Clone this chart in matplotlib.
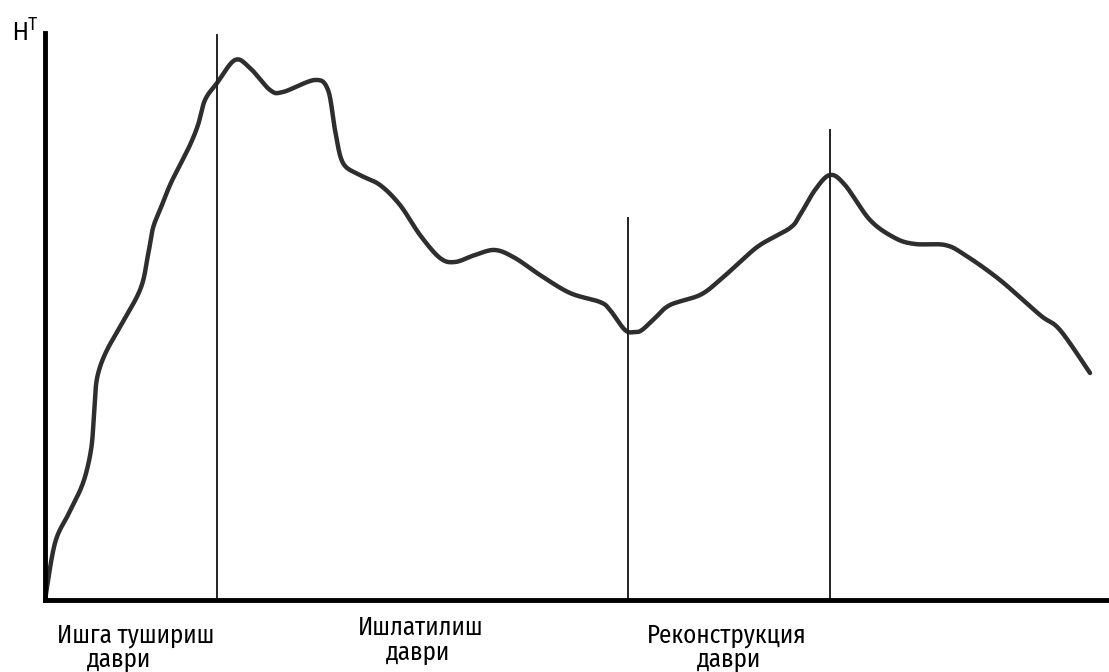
import matplotlib.pyplot as plt
import numpy as np
import matplotlib.font_manager as fm

# a narrow face looks closest to the original lettering
names = sorted({f.name for f in fm.fontManager.ttflist})
narrow = [n for n in names if 'Narrow' in n or 'Condensed' in n]
plt.rcParams['font.family'] = narrow + ['Roboto', 'DejaVu Sans']

# curve points (x: time, y: level)
x_pts = [0, 10, 24, 38, 46, 49, 51, 55, 62, 72, 95, 103, 108, 115, 125,
         135, 145, 153, 160, 172, 190, 205, 225, 238, 270, 283, 290, 298, 315,
         335, 355, 375, 395, 410, 430, 450, 470, 495, 525, 555, 565, 580, 590,
         597, 610, 625, 655, 675, 695, 715, 745, 755, 770, 785, 800, 825, 850,
         870, 900, 920, 955, 995, 1015, 1045]
y_pts = [0, 57, 87, 117, 150, 185, 215, 233, 250, 268, 310, 345, 372, 390, 415,
         435, 455, 475, 500, 517, 540, 532, 510, 508, 520, 510, 470, 437, 425,
         415, 395, 365, 342, 338, 345, 350, 342, 325, 307, 298, 290, 270, 268,
         270, 282, 295, 305, 320, 338, 355, 372, 385, 410, 425, 415, 380, 362,
         356, 355, 345, 320, 285, 270, 227]

period_x = [172, 583, 785]
period_top = [565, 382, 470]

labels = [("Ишга тушириш", 91, -43), ("даври", 74, -67),
          ("Ишлатилиш", 376, -35), ("даври", 373, -60),
          ("Реконструкция", 682, -43), ("даври", 684, -67)]


# Catmull-Rom smoothing of the traced points
def catmull(p, n=25):
    out = []
    p = np.concatenate([[p[0]], p, [p[-1]]])
    for i in range(1, len(p) - 2):
        s = np.linspace(0, 1, n, endpoint=False)
        p0, p1, p2, p3 = p[i - 1], p[i], p[i + 1], p[i + 2]
        out.append(0.5 * ((2 * p1) + (-p0 + p2) * s + (2 * p0 - 5 * p1 + 4 * p2 - p3) * s ** 2
                          + (-p0 + 3 * p1 - 3 * p2 + p3) * s ** 3))
    out.append([p[-2]])
    return np.concatenate(out)


fig = plt.figure(figsize=(11.09, 6.72), dpi=100)
ax = fig.add_axes([45 / 1109, 72 / 672, 1064 / 1109, 567 / 672])

xs = np.array(x_pts, float)
ys = np.array(y_pts, float)
ax.plot(catmull(xs), catmull(ys), color='#2e2e2e', lw=3.2, solid_capstyle='round')

for px, top in zip(period_x, period_top):
    ax.plot([px, px], [0, top], color='#222222', lw=1.4)

ax.set_xlim(0, 1064)
ax.set_ylim(0, 567)
ax.spines['top'].set_visible(False)
ax.spines['right'].set_visible(False)
ax.spines['left'].set_linewidth(3.5)
ax.spines['bottom'].set_linewidth(3.5)
ax.set_xticks([])
ax.set_yticks([])

for txt, x, y in labels:
    ax.text(x, y, txt, ha='center', va='baseline', fontsize=18, clip_on=False)

ax.text(-33, 558, r'$\mathregular{H^T}$', ha='left', va='baseline', fontsize=19)

fig.savefig('out.png', dpi=100)
